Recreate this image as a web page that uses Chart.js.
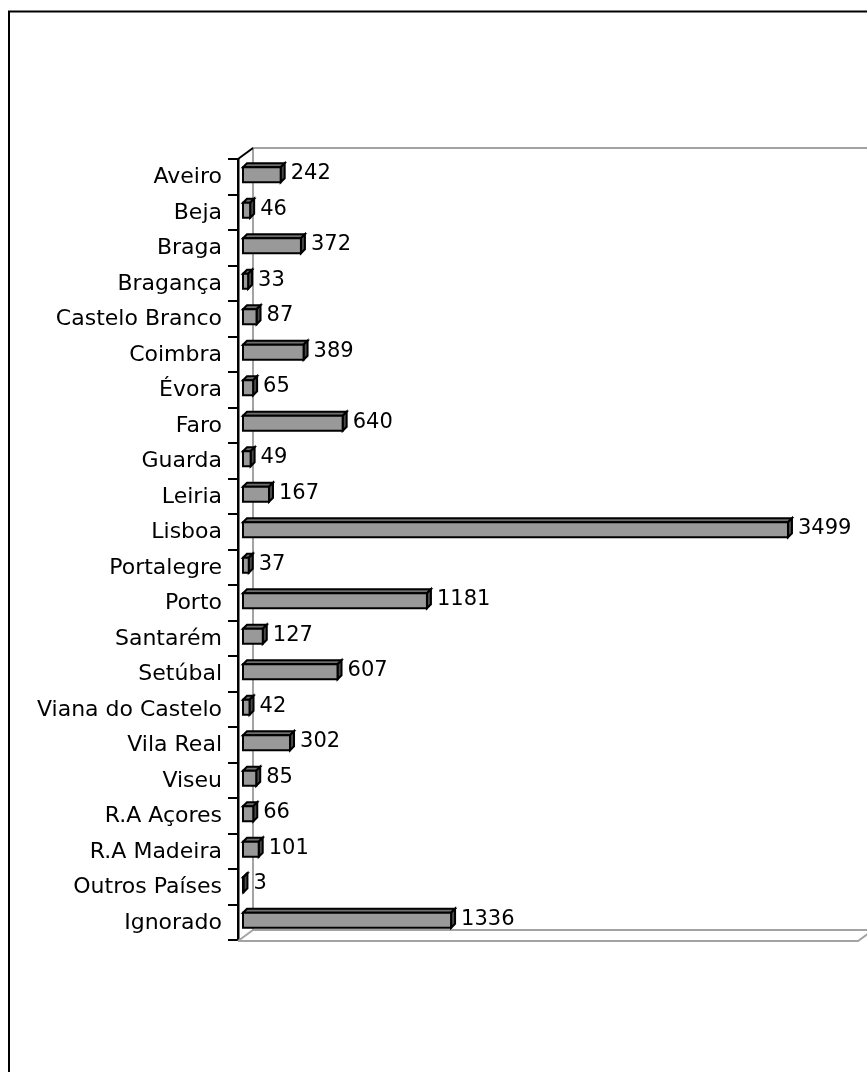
<!DOCTYPE html>
<html>
<head>
<meta charset="utf-8">
<script src="https://cdn.jsdelivr.net/npm/chart.js@4.4.1/dist/chart.umd.min.js"></script>
<style>
  html, body { margin: 0; padding: 0; background: #ffffff; overflow: hidden; }
  #wrap { position: relative; width: 867px; height: 1072px; }
</style>
</head>
<body>
<div id="wrap"><canvas id="c"></canvas></div>
<script>
const categories = ["Aveiro","Beja","Braga","Bragança","Castelo Branco","Coimbra","Évora","Faro","Guarda","Leiria","Lisboa","Portalegre","Porto","Santarém","Setúbal","Viana do Castelo","Vila Real","Viseu","R.A Açores","R.A Madeira","Outros Países","Ignorado"];
const values = [242,46,372,33,87,389,65,640,49,167,3499,37,1181,127,607,42,302,85,66,101,3,1336];
const axisMin = -32;
const axisMax = 4000;

const FONT = '"DejaVu Sans", Verdana, sans-serif';

const framePlugin = {
  id: 'frame',
  beforeDraw(chart) {
    const ctx = chart.ctx;
    ctx.save();
    ctx.fillStyle = '#ffffff';
    ctx.fillRect(0, 0, chart.width, chart.height);
    ctx.strokeStyle = '#000000';
    ctx.lineWidth = 2;
    ctx.beginPath();
    ctx.moveTo(9, chart.height + 5);
    ctx.lineTo(9, 11.5);
    ctx.lineTo(chart.width + 5, 11.5);
    ctx.stroke();
    ctx.restore();
  },
  beforeDatasetsDraw(chart) {
    const ctx = chart.ctx;
    const a = chart.chartArea;
    const dx = 15, dy = -11;
    ctx.save();
    ctx.strokeStyle = '#a3a3a3';
    ctx.lineWidth = 2;
    ctx.beginPath();
    ctx.moveTo(a.right + 20, a.top + dy);
    ctx.lineTo(a.left + dx, a.top + dy);
    ctx.lineTo(a.left + dx, a.bottom + dy + 1);
    ctx.lineTo(a.right + 20, a.bottom + dy + 1);
    ctx.moveTo(a.left, a.bottom + 1);
    ctx.lineTo(a.right - 8, a.bottom + 1);
    ctx.lineTo(a.right - 8 + dx, a.bottom + dy + 1);
    ctx.moveTo(a.left, a.bottom + 1);
    ctx.lineTo(a.left + dx, a.bottom + dy + 1);
    ctx.stroke();
    ctx.strokeStyle = '#000000';
    ctx.beginPath();
    ctx.moveTo(a.left, a.top);
    ctx.lineTo(a.left + dx, a.top + dy);
    ctx.stroke();
    ctx.restore();
  },
  afterDatasetsDraw(chart) {
    const ctx = chart.ctx;
    const meta = chart.getDatasetMeta(0);
    const d = 4, yOff = -2;
    ctx.save();
    ctx.lineJoin = 'miter';
    meta.data.forEach((bar, i) => {
      const p = bar.getProps(['x', 'y', 'base', 'height'], true);
      const left = p.base, right = p.x;
      const top = p.y - p.height / 2 + yOff, bottom = p.y + p.height / 2 + yOff;
      ctx.lineWidth = 2;
      ctx.strokeStyle = '#000000';
      ctx.beginPath();
      ctx.moveTo(left, top);
      ctx.lineTo(left + d, top - d);
      ctx.lineTo(right + d, top - d);
      ctx.lineTo(right, top);
      ctx.closePath();
      ctx.fillStyle = '#6e6e6e';
      ctx.fill();
      ctx.stroke();
      ctx.beginPath();
      ctx.moveTo(right, top);
      ctx.lineTo(right + d, top - d);
      ctx.lineTo(right + d, bottom - d);
      ctx.lineTo(right, bottom);
      ctx.closePath();
      ctx.fillStyle = '#4a4a4a';
      ctx.fill();
      ctx.stroke();
      ctx.fillStyle = '#999999';
      ctx.fillRect(left, top, right - left, bottom - top);
      ctx.strokeRect(left, top, right - left, bottom - top);
      ctx.fillStyle = '#000000';
      ctx.font = '21px ' + FONT;
      ctx.textAlign = 'left';
      ctx.textBaseline = 'middle';
      ctx.fillText(String(values[i]), right + d + 6, (top + bottom) / 2 - 1);
    });
    ctx.restore();
  }
};

new Chart(document.getElementById('c'), {
  type: 'bar',
  data: {
    labels: categories,
    datasets: [{
      data: values,
      backgroundColor: 'rgba(0,0,0,0)',
      borderWidth: 0,
      barThickness: 15
    }]
  },
  options: {
    indexAxis: 'y',
    responsive: true,
    maintainAspectRatio: false,
    animation: false,
    events: [],
    layout: { padding: { top: 159, bottom: 132, left: 0, right: 1 } },
    plugins: {
      legend: { display: false },
      tooltip: { enabled: false }
    },
    scales: {
      x: {
        display: false,
        min: axisMin,
        max: axisMax
      },
      y: {
        afterFit(scale) { scale.width = 238; },
        grid: {
          drawOnChartArea: false,
          drawTicks: true,
          tickLength: 10,
          color: '#000000',
          lineWidth: 2
        },
        border: { display: true, color: '#000000', width: 2.5 },
        ticks: {
          color: '#000000',
          padding: 6,
          labelOffset: 1,
          font: { family: FONT, size: 22 }
        }
      }
    }
  },
  plugins: [framePlugin]
});
</script>
</body>
</html>
